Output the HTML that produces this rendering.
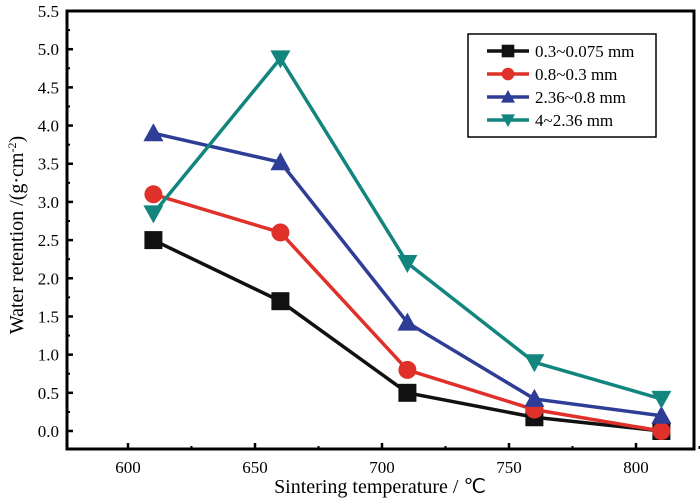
<!DOCTYPE html>
<html><head><meta charset="utf-8"><style>body{margin:0;background:#fff}svg{display:block;font-family:"Liberation Serif",serif}</style></head>
<body>
<svg id="c" width="700" height="500"></svg>
<script>
const categories=[610,660,710,760,810];
const seriesNames=["0.3~0.075 mm","0.8~0.3 mm","2.36~0.8 mm","4~2.36 mm"];
const s1=[2.5,1.7,0.5,0.18,0.0];
const s2=[3.1,2.6,0.8,0.28,0.0];
const s3=[3.9,3.52,1.42,0.42,0.2];
const s4=[2.85,4.88,2.2,0.9,0.42];
const xTicks=[600,650,700,750,800];
const yTicks=["0.0","0.5","1.0","1.5","2.0","2.5","3.0","3.5","4.0","4.5","5.0","5.5"];
const colors=["#111","#e0302a","#2e3e96","#13857f"];
const markers=["square","circle","up","down"];
const NS="http://www.w3.org/2000/svg";
const svg=document.getElementById('c');
const L=67,R=694,T=11,B=449;
const X=v=>128+(v-600)*2.54;
const Y=v=>431-v*76.36;
function el(t,a,p){const e=document.createElementNS(NS,t);for(const k in a)e.setAttribute(k,a[k]);(p||svg).appendChild(e);return e;}
const frame=el('rect',{x:L,y:T,width:R-L,height:B-T,fill:'none',stroke:'#000','stroke-width':3});


yTicks.forEach((t,i)=>{const v=parseFloat(t),y=Y(v);
 el('line',{x1:L,x2:L+6,y1:y,y2:y,stroke:'#000','stroke-width':2.5});
 if(i<yTicks.length-1){const m=Y(v+0.25);el('line',{x1:L,x2:L+3,y1:m,y2:m,stroke:'#000','stroke-width':2});}
 const tx=el('text',{x:L-8,y:y+6,'text-anchor':'end','font-size':17});tx.textContent=t;
 
 
});
xTicks.forEach(t=>{const x=X(t);
 el('line',{x1:x,x2:x,y1:B,y2:B-6,stroke:'#000','stroke-width':2.5});
 const m=X(t+25);el('line',{x1:m,x2:m,y1:B,y2:B-3,stroke:'#000','stroke-width':2});
 const tx=el('text',{x:x,y:B+24,'text-anchor':'middle','font-size':17});tx.textContent=t;
 
 
});
function marker(g,type,x,y,c,s){
 if(type==='square')el('rect',{x:x-9*s,y:y-9*s,width:18*s,height:18*s,fill:c},g);
 else if(type==='circle')el('circle',{cx:x,cy:y,r:9*s,fill:c},g);
 else if(type==='up')el('polygon',{points:`${x-10*s},${y+8*s} ${x+10*s},${y+8*s} ${x},${y-10*s}`,fill:c},g);
 else el('polygon',{points:`${x-10*s},${y-8*s} ${x+10*s},${y-8*s} ${x},${y+10*s}`,fill:c},g);
}
[s1,s2,s3,s4].forEach((s,i)=>{
 const g=el('g',{});
 
 
 el('polyline',{points:s.map((v,j)=>X(categories[j])+','+Y(v)).join(' '),fill:'none',stroke:colors[i],'stroke-width':3.5},g);
 s.forEach((v,j)=>marker(g,markers[i],X(categories[j]),Y(v),colors[i],1));
});
const lg=el('g',{});


el('rect',{x:468,y:34,width:188,height:103,fill:'#fff',stroke:'#000','stroke-width':1.5},lg);
seriesNames.forEach((n,i)=>{const y=51+i*23;
 el('line',{x1:487,x2:529,y1:y,y2:y,stroke:colors[i],'stroke-width':3.5},lg);
 marker(lg,markers[i],508,y,colors[i],0.7);
 const tx=el('text',{x:535,y:y+6,'font-size':17},lg);tx.textContent=n;
 
 
});
const xl=el('text',{x:380,y:493,'text-anchor':'middle','font-size':20});xl.textContent='Sintering temperature / ℃';


const yl=el('text',{x:0,y:0,'text-anchor':'middle','font-size':20,transform:'translate(23,235) rotate(-90)'});
yl.innerHTML='Water retention /(g·cm<tspan dy="-7" font-size="12">-2</tspan><tspan dy="7">)</tspan>';


</script>
</body></html>
